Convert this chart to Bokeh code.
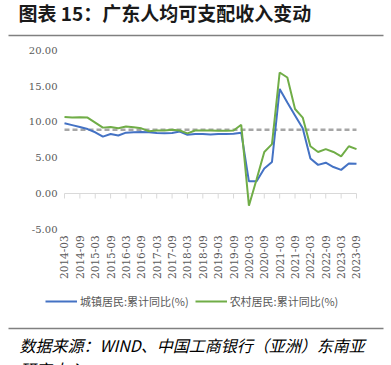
import math
from bokeh.plotting import figure
from bokeh.models import (FixedTicker, Legend, LegendItem, Range1d,
                          NumeralTickFormatter)
from bokeh.core.properties import value
from bokeh.embed import file_html
from bokeh.resources import INLINE

# ---------------- data ----------------
quarters = [
    "2014-03", "2014-06", "2014-09", "2014-12",
    "2015-03", "2015-06", "2015-09", "2015-12",
    "2016-03", "2016-06", "2016-09", "2016-12",
    "2017-03", "2017-06", "2017-09", "2017-12",
    "2018-03", "2018-06", "2018-09", "2018-12",
    "2019-03", "2019-06", "2019-09", "2019-12",
    "2020-03", "2020-06", "2020-09", "2020-12",
    "2021-03", "2021-06", "2021-09", "2021-12",
    "2022-03", "2022-06", "2022-09", "2022-12",
    "2023-03", "2023-06", "2023-09",
]
urban = [9.8, 9.55, 9.3, 9.0, 8.55, 7.95, 8.3, 8.1, 8.5, 8.55,
         8.6, 8.55, 8.45, 8.4, 8.45, 8.65, 8.2, 8.3, 8.3, 8.25,
         8.3, 8.3, 8.35, 8.5, 1.7, 1.7, 3.5, 4.4, 14.6, 12.7,
         10.9, 9.1, 4.9, 4.0, 4.3, 3.7, 3.3, 4.2, 4.15]
rural = [10.7, 10.6, 10.65, 10.6, 9.9, 9.2, 9.3, 9.1, 9.35, 9.25,
         9.1, 8.7, 8.8, 8.8, 8.9, 8.8, 8.4, 8.8, 8.8, 8.8,
         8.75, 8.75, 8.8, 9.6, -1.7, 2.0, 5.8, 6.9, 16.9, 16.2,
         11.8, 10.6, 6.6, 5.8, 6.2, 5.8, 5.2, 6.6, 6.2]
ref_level = 8.9
tick_labels = ["2014-03", "2014-09", "2015-03", "2015-09", "2016-03",
               "2016-09", "2017-03", "2017-09", "2018-03", "2018-09",
               "2019-03", "2019-09", "2020-03", "2020-09", "2021-03",
               "2021-09", "2022-03", "2022-09", "2023-03", "2023-09"]
y_ticks = [-5, 0, 5, 10, 15, 20]
series_names = ["城镇居民:累计同比(%)", "农村居民:累计同比(%)"]
title_text = "图表 15：广东人均可支配收入变动"
source_lines = ["数据来源：WIND、中国工商银行（亚洲）东南亚", "研究中心"]

idx = list(range(len(quarters)))
tick_idx = [quarters.index(t) for t in tick_labels]

# ---------------- layout constants (pixels) ----------------
W, H = 391, 365
X0_PX, X_PER = 64.0, 292.0 / 38      # px of first quarter, px per quarter
Y0_PX, Y_PER = 193.0, 179.0 / 25     # px of value 0, px per unit
lab_color = "#595959"
CJK = "Noto Sans CJK SC"

p = figure(width=W, height=H, output_backend="svg", toolbar_location=None,
           x_range=Range1d(-X0_PX / X_PER, (W - X0_PX) / X_PER),
           y_range=Range1d((Y0_PX - H) / Y_PER, Y0_PX / Y_PER),
           min_border=0, min_border_left=0, min_border_right=0,
           min_border_top=0, min_border_bottom=0)
p.extra_x_ranges = {"px": Range1d(0, W)}
p.extra_y_ranges = {"py": Range1d(H, 0)}
p.outline_line_color = None
p.grid.visible = False
p.background_fill_color = "white"
p.border_fill_color = "white"

# y axis (labels only), fixed just left of the plot area
ya = p.yaxis[0]
ya.fixed_location = (62 - X0_PX) / X_PER
ya.ticker = FixedTicker(ticks=y_ticks)
ya.formatter = NumeralTickFormatter(format="0.00")
ya.axis_line_color = None
ya.major_tick_out = 0
ya.major_tick_in = 0
ya.minor_tick_out = 0
ya.minor_tick_in = 0
ya.major_label_standoff = 5
ya.major_label_text_font = "DejaVu Serif"
ya.major_label_text_font_size = "10px"
ya.major_label_text_color = lab_color

# x axis (labels only), at the bottom of the value range
xa = p.xaxis[0]
xa.fixed_location = y_ticks[0]
xa.ticker = FixedTicker(ticks=tick_idx)
xa.major_label_overrides = {i: quarters[i] for i in tick_idx}
xa.major_label_orientation = math.pi / 2
xa.axis_line_color = None
xa.major_tick_out = 0
xa.major_tick_in = 0
xa.minor_tick_out = 0
xa.minor_tick_in = 0
xa.major_label_standoff = 6
xa.major_label_text_font = "DejaVu Serif"
xa.major_label_text_font_size = "10.5px"
xa.major_label_text_color = lab_color

# axis line at zero with downward ticks
p.line(x=[idx[0], idx[-1]], y=[0, 0], line_color="#D9D9D9", line_width=1)
p.segment(x0=tick_idx, y0=[0] * len(tick_idx), x1=tick_idx,
          y1=[-5.0 / Y_PER] * len(tick_idx),
          line_color="#D9D9D9", line_width=1)

# reference dashed line
p.line(x=[idx[0], idx[-1]], y=[ref_level, ref_level], line_color="#A6A6A6",
       line_width=2.5, line_dash="5 3")

r1 = p.line(x=idx, y=urban, line_color="#4472C4", line_width=2)
r2 = p.line(x=idx, y=rural, line_color="#70AD47", line_width=2)

legend = Legend(items=[LegendItem(label=series_names[0], renderers=[r1]),
                       LegendItem(label=series_names[1], renderers=[r2])],
                location=(45, H - 309), orientation="horizontal",
                glyph_width=32, glyph_height=12, label_height=12,
                label_standoff=3, spacing=6, padding=0, margin=0,
                border_line_color=None, background_fill_alpha=0)
legend.label_text_font = CJK
legend.label_text_font_size = "11px"
legend.label_text_color = lab_color
p.add_layout(legend)

# header: title and rule
p.text(x=[18], y=[11.5], text=[title_text], text_font=value(CJK),
       text_font_style="bold", text_font_size="19px", text_color="#1a1a1a",
       text_baseline="middle", text_align="left",
       x_range_name="px", y_range_name="py")
p.segment(x0=[8, 8], y0=[35, 328], x1=[383, 383], y1=[35, 328],
          line_color="#808080", line_width=1.5,
          x_range_name="px", y_range_name="py")

# footer: source
p.text(x=[19, 19], y=[332, 356], text=source_lines, text_font=value(CJK),
       text_font_style="italic", text_font_size="16px", text_color="#000000",
       text_baseline="top", text_align="left",
       x_range_name="px", y_range_name="py")

open("out.html", "w").write(file_html(p, INLINE))
